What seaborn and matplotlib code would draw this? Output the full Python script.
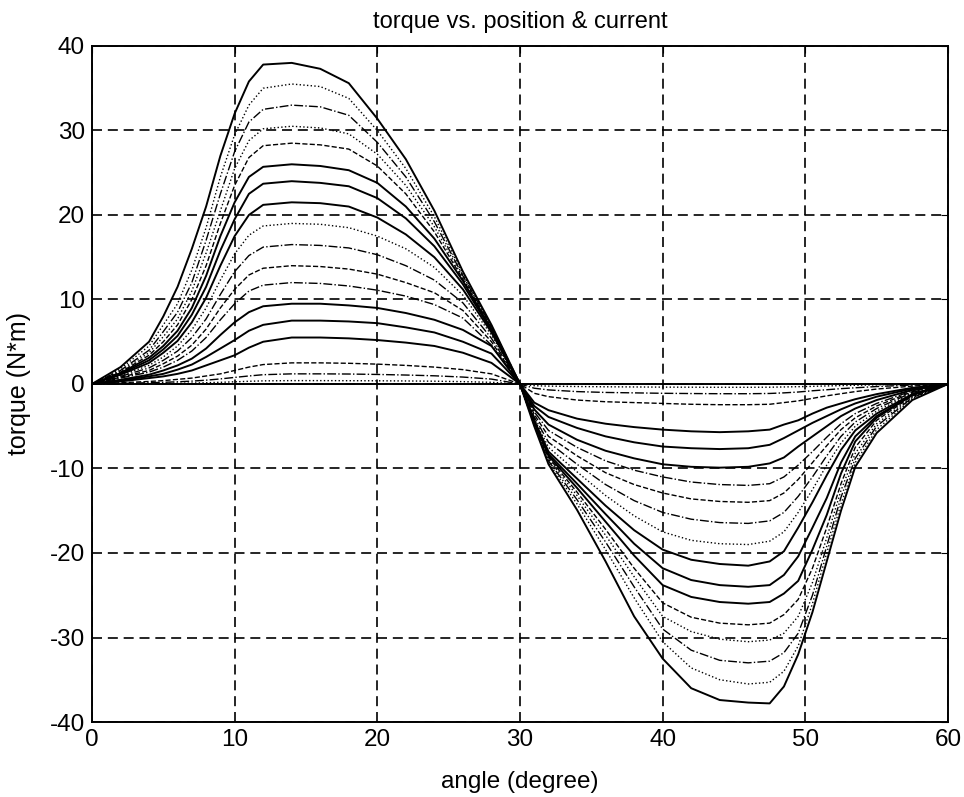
import matplotlib
matplotlib.use("Agg")
import matplotlib.pyplot as plt
import seaborn as sns
import pandas as pd

# ---------------- data ----------------
angle_pos = [0, 2, 4, 5, 6, 7, 8, 9, 10, 11, 12, 14, 16, 18, 20, 22, 24, 26, 28, 30]
angle_neg = [30, 31, 32, 34, 36, 38, 40, 42, 44, 46, 47.5, 48.5, 49.5, 50.5, 51.5, 52.5, 53.5, 55, 57.5, 60]

# positive half (0..30 deg), one list per current level
p38 = [0, 2, 5, 8, 11.5, 16, 21, 27, 32, 35.8, 37.8, 38, 37.3, 35.6, 31.4, 26.6, 20.5, 13.3, 7, 0]
p35 = [0, 1.8, 4.5, 7, 9.5, 13.5, 18.5, 24.5, 29.5, 33, 35, 35.5, 35.2, 33.8, 30, 25.5, 19.8, 13, 6.9, 0]
p33 = [0, 1.6, 4, 6.2, 8.5, 12, 17, 22.5, 27.5, 31, 32.5, 33, 32.8, 31.8, 28.6, 24.5, 19.2, 12.8, 6.8, 0]
p30 = [0, 1.5, 3.7, 5.6, 7.7, 11, 15.5, 20.5, 25.5, 28.8, 30.2, 30.5, 30.3, 29.6, 27.2, 23.5, 18.6, 12.6, 6.7, 0]
p28 = [0, 1.4, 3.4, 5, 7, 10, 14, 19, 23.5, 26.8, 28.2, 28.5, 28.3, 27.8, 25.8, 22.5, 18, 12.4, 6.6, 0]
p26 = [0, 1.3, 3.1, 4.5, 6.3, 9, 12.8, 17.5, 21.5, 24.5, 25.7, 26, 25.8, 25.3, 23.8, 21, 17.2, 12.2, 6.5, 0]
p24 = [0, 1.2, 2.8, 4.1, 5.7, 8.2, 11.5, 15.8, 19.5, 22.5, 23.7, 24, 23.8, 23.4, 22, 19.6, 16.3, 11.8, 6.3, 0]
p21 = [0, 1.1, 2.5, 3.7, 5.1, 7.3, 10.2, 14, 17.5, 20, 21.2, 21.5, 21.4, 21, 19.7, 17.7, 15, 11.2, 6.1, 0]
p19 = [0, 1, 2.2, 3.2, 4.5, 6.4, 9, 12.3, 15.4, 17.6, 18.7, 19, 18.9, 18.5, 17.5, 16, 13.8, 10.5, 5.8, 0]
p16 = [0, 0.9, 1.9, 2.8, 3.9, 5.5, 7.7, 10.6, 13.3, 15.2, 16.2, 16.5, 16.4, 16.1, 15.3, 14, 12.3, 9.6, 5.4, 0]
p14 = [0, 0.8, 1.6, 2.4, 3.3, 4.6, 6.5, 9, 11.2, 12.9, 13.7, 14, 13.9, 13.6, 13, 12, 10.8, 8.7, 5, 0]
p12 = [0, 0.7, 1.4, 2, 2.8, 3.9, 5.5, 7.6, 9.5, 11, 11.7, 12, 11.9, 11.6, 11.1, 10.4, 9.4, 7.8, 4.6, 0]
p9 = [0, 0.5, 1.1, 1.6, 2.2, 3, 4.2, 5.8, 7.3, 8.5, 9.2, 9.5, 9.5, 9.3, 9.0, 8.4, 7.6, 6.4, 4.5, 0]
p7 = [0, 0.4, 0.9, 1.2, 1.7, 2.3, 3.2, 4.2, 5.2, 6.3, 7, 7.5, 7.5, 7.4, 7.2, 6.7, 6.1, 5, 3.6, 0]
p5 = [0, 0.3, 0.7, 0.9, 1.2, 1.6, 2.2, 2.8, 3.4, 4.3, 5, 5.5, 5.5, 5.4, 5.2, 4.9, 4.5, 3.7, 2.5, 0]
p2 = [0, 0.15, 0.3, 0.4, 0.55, 0.7, 0.95, 1.2, 1.6, 2, 2.3, 2.5, 2.5, 2.45, 2.35, 2.2, 2, 1.7, 1.2, 0]
p1 = [0, 0.07, 0.15, 0.2, 0.26, 0.34, 0.45, 0.6, 0.78, 0.95, 1.1, 1.2, 1.2, 1.18, 1.13, 1.06, 0.97, 0.82, 0.58, 0]
p0 = [0, 0.02, 0.05, 0.07, 0.09, 0.11, 0.15, 0.2, 0.26, 0.32, 0.37, 0.4, 0.4, 0.39, 0.38, 0.36, 0.33, 0.28, 0.2, 0]
pz = [0] * 20

# negative half (30..60 deg)
n38 = [0, -5, -9.5, -14.9, -21, -27.5, -32.5, -36, -37.4, -37.7, -37.8, -35.8, -32, -27, -21, -15, -9.8, -5.8, -1.9, 0]
n35 = [0, -4.9, -9.3, -14.2, -19.6, -25.3, -30.5, -33.6, -35, -35.5, -35.3, -34, -31, -26, -20, -14.2, -9.3, -5.4, -1.7, 0]
n33 = [0, -4.8, -9.1, -13.7, -18.7, -24, -29, -31.5, -32.7, -33, -32.8, -31.8, -29.5, -25, -19.2, -13.4, -8.8, -5, -1.6, 0]
n30 = [0, -4.7, -8.9, -13.2, -17.9, -22.8, -27.5, -29.3, -30.2, -30.5, -30.3, -29.5, -27.5, -23.5, -18.2, -12.6, -8.2, -4.7, -1.5, 0]
n28 = [0, -4.6, -8.7, -12.8, -17.2, -21.8, -25.9, -27.6, -28.3, -28.5, -28.3, -27.3, -25.5, -21.8, -17, -11.8, -7.5, -4.3, -1.4, 0]
n26 = [0, -4.5, -8.5, -12.3, -16.3, -20.3, -23.8, -25.2, -25.8, -26, -25.8, -24.8, -23.3, -19.6, -15.5, -10.6, -6.8, -4, -1.3, 0]
n24 = [0, -4.4, -8.3, -11.8, -15.4, -18.9, -21.8, -23.2, -23.8, -24, -23.8, -22.6, -20.4, -17, -13.5, -9.3, -6.2, -3.8, -1.3, 0]
n21 = [0, -4.3, -8, -11.2, -14.4, -17.3, -19.6, -20.8, -21.3, -21.5, -21, -19.8, -17, -14, -10.8, -7.8, -5.5, -3.5, -1.2, 0]
n19 = [0, -4.1, -7.5, -10.4, -13.2, -15.6, -17.5, -18.5, -18.9, -19, -18.6, -17.5, -15.2, -12.5, -9.6, -7, -5, -3.2, -1.1, 0]
n16 = [0, -3.9, -6.9, -9.5, -11.9, -13.8, -15.2, -16, -16.4, -16.5, -16.2, -15.2, -13.3, -11, -8.5, -6.2, -4.5, -2.9, -1, 0]
n14 = [0, -3.6, -6.2, -8.5, -10.5, -11.9, -12.9, -13.6, -13.9, -14, -13.8, -12.9, -11.3, -9.3, -7.3, -5.4, -4, -2.6, -0.9, 0]
n12 = [0, -3.3, -5.5, -7.5, -9.1, -10.2, -11, -11.6, -11.9, -12, -11.8, -11, -9.6, -8, -6.3, -4.7, -3.5, -2.3, -0.8, 0]
n9 = [0, -3, -4.8, -6.6, -7.9, -8.8, -9.5, -9.8, -9.9, -9.8, -9.4, -8.7, -7.4, -6.2, -5, -3.8, -2.9, -1.9, -0.7, 0]
n7 = [0, -2.6, -3.9, -5.2, -6.2, -6.9, -7.4, -7.6, -7.7, -7.6, -7.2, -6.4, -5.5, -4.6, -3.8, -3, -2.3, -1.5, -0.55, 0]
n5 = [0, -2.2, -3.1, -4.1, -4.7, -5.1, -5.4, -5.6, -5.7, -5.6, -5.4, -4.8, -4.3, -3.5, -2.8, -2.3, -1.8, -1.2, -0.45, 0]
n2 = [0, -1.1, -1.5, -1.9, -2.1, -2.2, -2.3, -2.4, -2.45, -2.45, -2.4, -2.2, -2, -1.7, -1.4, -1.15, -0.9, -0.6, -0.25, 0]
n1 = [0, -0.5, -0.7, -0.9, -1.0, -1.05, -1.1, -1.13, -1.15, -1.15, -1.12, -1.05, -0.95, -0.8, -0.68, -0.55, -0.45, -0.3, -0.12, 0]
n0 = [0, -0.2, -0.25, -0.3, -0.33, -0.35, -0.37, -0.38, -0.39, -0.39, -0.38, -0.35, -0.32, -0.28, -0.23, -0.19, -0.15, -0.1, -0.04, 0]
nz = [0] * 20

curves_pos = [p38, p35, p33, p30, p28, p26, p24, p21, p19, p16, p14, p12, p9, p7, p5, p2, p1, p0, pz]
curves_neg = [n38, n35, n33, n30, n28, n26, n24, n21, n19, n16, n14, n12, n9, n7, n5, n2, n1, n0, nz]
styles = ['-', ':', '-.', ':', '--', '-', '-', '-', ':', '-.', '--', '-.', '-', '-', '-', '--', '-.', ':', '-']

x_ticks = [0, 10, 20, 30, 40, 50, 60]
y_ticks = [-40, -30, -20, -10, 0, 10, 20, 30, 40]

title = "torque vs. position & current"
xlabel = "angle (degree)"
ylabel = "torque (N*m)"

# ---------------- drawing ----------------
sns.set_style("white")
plt.rcParams['font.family'] = ['Liberation Sans', 'DejaVu Sans']
plt.rcParams['axes.unicode_minus'] = False
plt.rcParams['text.color'] = 'black'
plt.rcParams['axes.labelcolor'] = 'black'

fig = plt.figure(figsize=(9.64, 7.97), dpi=100)
ax = fig.add_axes([0.0954, 0.0941, 0.888, 0.8482])

rows = []
for i, (cp, cn) in enumerate(zip(curves_pos, curves_neg)):
    for a, t in zip(angle_pos, cp):
        rows.append({"curve": i, "angle": a, "torque": t})
    for a, t in zip(angle_neg[1:], cn[1:]):
        rows.append({"curve": i, "angle": a, "torque": t})
df = pd.DataFrame(rows)

for i in range(len(curves_pos)):
    sub = df[df["curve"] == i]
    ls = styles[i]
    lw = 1.4 if ls == '-' else 1.0
    sns.lineplot(data=sub, x="angle", y="torque", ax=ax, color="black",
                 linestyle=ls, linewidth=lw, sort=False, estimator=None)

ax.set_xlim(0, 60)
ax.set_ylim(-40, 40)
ax.set_xticks(x_ticks)
ax.set_yticks(y_ticks)
ax.grid(True, color="black", linestyle=(0, (6, 3.5)), linewidth=1.2)
ax.tick_params(direction="in", length=5, labelsize=17.5, colors="black",
               top=True, right=True, pad=5)
for s in ax.spines.values():
    s.set_color("black")
    s.set_linewidth(1.4)
ax.set_title(title, fontsize=17, pad=13, color="black")
ax.set_xlabel(xlabel, fontsize=17.5, color="black")
ax.set_ylabel(ylabel, fontsize=18, color="black")
ax.xaxis.set_label_coords(0.5, -0.073)
ax.yaxis.set_label_coords(-0.071, 0.5)

fig.savefig("out.png", dpi=100)
